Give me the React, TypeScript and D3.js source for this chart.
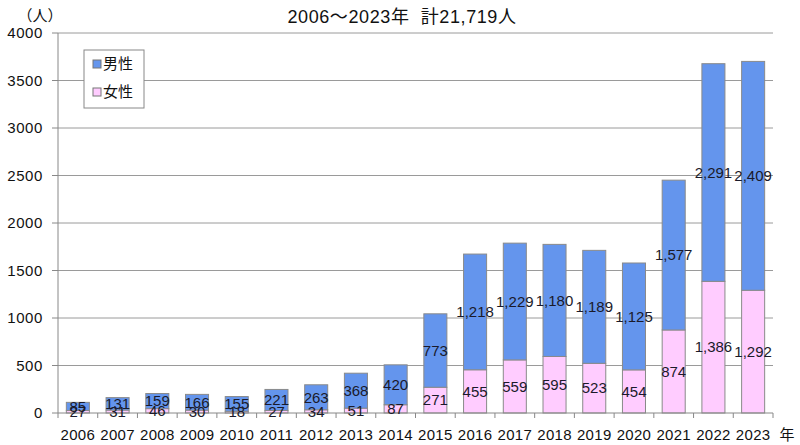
import React from "react";
import * as d3 from "d3";

const years = ["2006","2007","2008","2009","2010","2011","2012","2013","2014","2015","2016","2017","2018","2019","2020","2021","2022","2023"];
const male = [85,131,159,166,155,221,263,368,420,773,1218,1229,1180,1189,1125,1577,2291,2409];
const female = [27,31,46,30,18,27,34,51,87,271,455,559,595,523,454,874,1386,1292];
const yTicks = [0,500,1000,1500,2000,2500,3000,3500,4000];
const seriesNames = ["男性","女性"];
const title = "2006～2023年  計21,719人";

const W = 800, H = 445;
const left = 58, right = 773, top = 33, bottom = 413;
const MALE = "#6495ED";
const FEMALE = "#FFCCFF";
const FONT = "'Liberation Sans', Arial, 'Noto Sans CJK JP', sans-serif";

export default function App() {
  const x = d3.scaleBand<string>().domain(years).range([left, right]).paddingInner(0.42).paddingOuter(0.21);
  const y = d3.scaleLinear().domain([0, 4000]).range([bottom, top]);
  const step = x.step();
  const fmt = d3.format(",");
  return (
    <svg width={W} height={H} style={{ position: "absolute", left: 0, top: 0, background: "#fff" }} fontFamily={FONT}>
      <rect x={0} y={0} width={W} height={H} fill="#fff" />
      {/* gridlines */}
      {yTicks.filter(t => t > 0).map(t => (
        <line key={t} x1={left} x2={right} y1={y(t)} y2={y(t)} stroke="#9a9a9a" strokeWidth={1} />
      ))}
      {/* y ticks + labels */}
      {yTicks.map(t => (
        <g key={"yt" + t}>
          <line x1={left - 6} x2={left} y1={y(t)} y2={y(t)} stroke="#888" />
          <text x={43} y={y(t)} dy="0.35em" textAnchor="end" fontSize={15} letterSpacing={0.6} fill="#111">{t}</text>
        </g>
      ))}
      {/* bars */}
      {years.map((yr, i) => {
        const bx = x(yr)!;
        const bw = x.bandwidth();
        const f = female[i], m = male[i];
        return (
          <g key={yr}>
            <rect x={bx} y={y(f)} width={bw} height={y(0) - y(f)} fill={FEMALE} stroke="#8a8a8a" strokeWidth={1} />
            <rect x={bx} y={y(f + m)} width={bw} height={y(f) - y(f + m)} fill={MALE} stroke="#8a8a8a" strokeWidth={1} />
          </g>
        );
      })}
      {/* axes */}
      <line x1={left} x2={left} y1={top} y2={bottom} stroke="#888" />
      <line x1={left} x2={right} y1={bottom} y2={bottom} stroke="#888" />
      {d3.range(years.length + 1).map(i => (
        <line key={"xt" + i} x1={left + i * step} x2={left + i * step} y1={bottom} y2={bottom + 5} stroke="#888" />
      ))}
      {/* labels */}
      {years.map((yr, i) => {
        const cx = x(yr)! + x.bandwidth() / 2;
        const f = female[i], m = male[i];
        return (
          <g key={"l" + yr} fontSize={15} fill="#1a1a2a" textAnchor="middle">
            <text x={cx} y={y(f / 2)} dy="0.35em">{fmt(f)}</text>
            <text x={cx} y={y(f + m / 2)} dy="0.35em">{fmt(m)}</text>
          </g>
        );
      })}
      {years.map(yr => (
        <text key={"xl" + yr} x={x(yr)! + x.bandwidth() / 2} y={435} dy="0.35em" textAnchor="middle" fontSize={15} letterSpacing={0.3} fill="#111">{yr}</text>
      ))}
      <text x={787} y={435} dy="0.35em" textAnchor="middle" fontSize={15} fill="#111">年</text>
      <text x={40} y={16} dy="0.35em" textAnchor="middle" fontSize={15} fill="#111">（人）</text>
      <text x={402} y={17} dy="0.35em" textAnchor="middle" fontSize={18} letterSpacing={0.6} fill="#111" style={{ whiteSpace: "pre" }}>{title}</text>
      {/* legend */}
      <rect x={84} y={50} width={60} height={58} fill="#fff" stroke="#888" />
      {seriesNames.map((n, i) => (
        <g key={n}>
          <rect x={93} y={60 + i * 28} width={8} height={8} fill={i === 0 ? MALE : FEMALE} stroke="#777" />
          <text x={103} y={64 + i * 28} dy="0.35em" fontSize={15} fill="#111">{n}</text>
        </g>
      ))}
    </svg>
  );
}
